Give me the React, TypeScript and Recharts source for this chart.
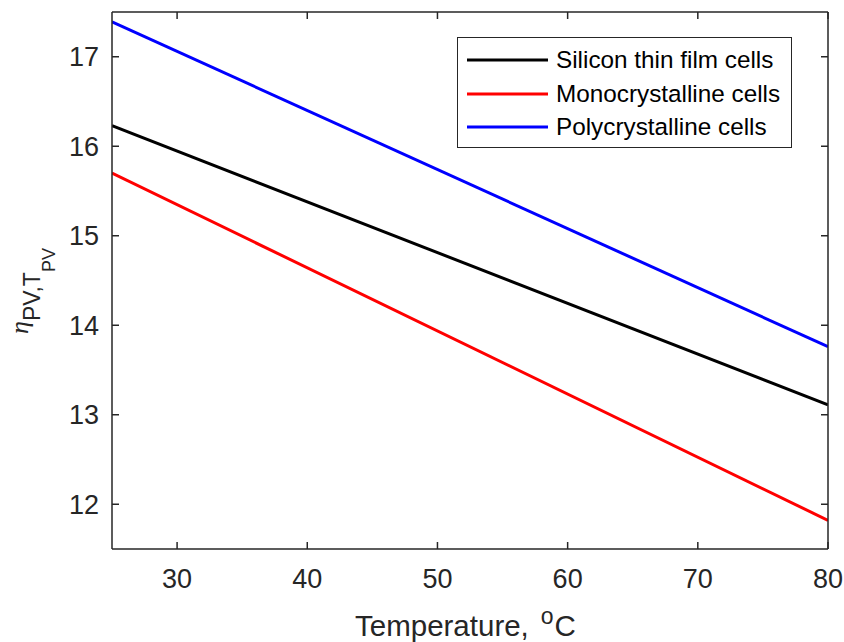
import React from 'react';
import { LineChart, Line, XAxis, YAxis, Legend } from 'recharts';

const temperatures = [25, 80];
const siliconThinFilm = [16.23, 13.11];
const monocrystalline = [15.7, 11.82];
const polycrystalline = [17.39, 13.76];
const xTicks = [30, 40, 50, 60, 70, 80];
const yTicks = [12, 13, 14, 15, 16, 17];

const seriesDefs = [
  { key: 'silicon', name: 'Silicon thin film cells', color: '#000000', values: siliconThinFilm },
  { key: 'mono', name: 'Monocrystalline cells', color: '#ff0000', values: monocrystalline },
  { key: 'poly', name: 'Polycrystalline cells', color: '#0000ff', values: polycrystalline },
];

const data = temperatures.map((t, i) => {
  const row: Record<string, number> = { t };
  seriesDefs.forEach((s) => {
    row[s.key] = s.values[i];
  });
  return row;
});

const AXIS = '#262626';
const FONT = '"Liberation Sans", Arial, Helvetica, sans-serif';

const XLabel = () => (
  <text x={355} y={636} textAnchor="start" fill={AXIS} fontFamily={FONT} fontSize={29.5}>
    <tspan>Temperature,</tspan>
    <tspan fontSize={23} dx={12} dy={-12}>o</tspan>
    <tspan fontSize={29.5} dx={1} dy={12}>C</tspan>
  </text>
);

const YLabel = () => (
  <text
    transform="rotate(-90)"
    x={-334}
    y={28}
    textAnchor="start"
    fill={AXIS}
    fontFamily={FONT}
  >
    <tspan fontFamily='"Liberation Serif", serif' fontStyle="italic" fontSize={26}>η</tspan>
    <tspan fontSize={23} dy={12}>PV,T</tspan>
    <tspan fontSize={18} dy={15}>PV</tspan>
  </text>
);

const LegendBox = () => (
  <div
    style={{
      position: 'absolute',
      left: 0,
      top: 0,
      width: 335,
      height: 111,
      boxSizing: 'border-box',
      border: `1.5px solid ${AXIS}`,
      background: '#ffffff',
      fontFamily: FONT,
      fontSize: 24.3,
      color: '#000000',
    }}
  >
    {seriesDefs.map((s, i) => (
      <div
        key={s.key}
        style={{
          position: 'absolute',
          left: 0,
          top: 22 + i * 33.7 - 17,
          height: 34,
          display: 'flex',
          alignItems: 'center',
          whiteSpace: 'nowrap',
        }}
      >
        <svg width={98} height={34} style={{ display: 'block' }}>
          <line x1={9} x2={90} y1={17} y2={17} stroke={s.color} strokeWidth={3} />
        </svg>
        <span style={{ lineHeight: '34px' }}>{s.name}</span>
      </div>
    ))}
  </div>
);

const noTick = () => <g />;

export default function App() {
  return (
    <div style={{ position: 'absolute', left: 0, top: 0, background: '#fff' }}>
      <LineChart
        width={844}
        height={642}
        data={data}
        margin={{ top: 11, right: 15, bottom: 0, left: 0 }}
      >
        <XAxis
          dataKey="t"
          type="number"
          domain={[25, 80]}
          ticks={xTicks}
          height={93}
          tickSize={-7}
          tickMargin={27}
          stroke={AXIS}
          strokeWidth={1.5}
          tick={{ fill: AXIS, fontSize: 27, fontFamily: FONT }}
          label={<XLabel />}
          allowDataOverflow
        />
        <XAxis
          xAxisId="top"
          orientation="top"
          dataKey="t"
          type="number"
          domain={[25, 80]}
          ticks={xTicks}
          height={1}
          tickSize={-7}
          stroke={AXIS}
          strokeWidth={1.5}
          tick={noTick}
          allowDataOverflow
        />
        <YAxis
          type="number"
          domain={[11.5, 17.5]}
          ticks={yTicks}
          width={112}
          tickSize={-7}
          tickMargin={20}
          stroke={AXIS}
          strokeWidth={1.5}
          tick={{ fill: AXIS, fontSize: 27, fontFamily: FONT }}
          label={<YLabel />}
          allowDataOverflow
        />
        <YAxis
          yAxisId="right"
          orientation="right"
          type="number"
          domain={[11.5, 17.5]}
          ticks={yTicks}
          width={1}
          tickSize={-7}
          stroke={AXIS}
          strokeWidth={1.5}
          tick={noTick}
          allowDataOverflow
        />
        <Legend
          content={<LegendBox />}
          wrapperStyle={{ position: 'absolute', left: 457, top: 37, width: 0, height: 0 }}
        />
        {seriesDefs.map((s, i) => (
          <Line
            key={s.key}
            dataKey={s.key}
            name={s.name}
            type="linear"
            xAxisId={i === 2 ? 'top' : 0}
            yAxisId={i === 2 ? 'right' : 0}
            stroke={s.color}
            strokeWidth={3}
            dot={false}
            activeDot={false}
            isAnimationActive={false}
          />
        ))}
      </LineChart>
    </div>
  );
}
